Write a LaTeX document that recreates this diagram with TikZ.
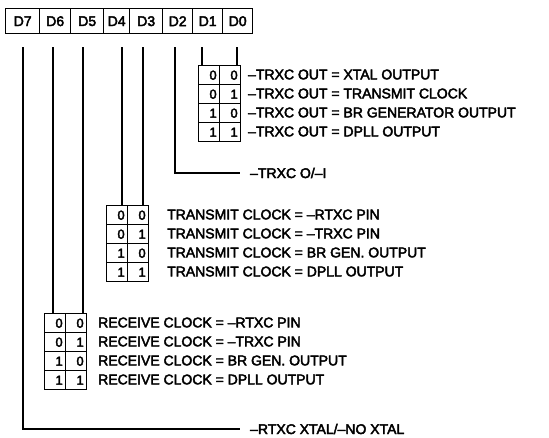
\documentclass[tikz,border=0pt]{standalone}
\usepackage{fontspec}
\setmainfont{Liberation Sans}[FakeBold=3]
\usetikzlibrary{positioning}

\begin{document}
\begin{tikzpicture}[x=1pt,y=-1pt,
	regbit/.style={ draw, line width=1.4pt, anchor=north west, minimum height=25pt, inner sep=0pt, font=\fontsize{14}{16}\selectfont },
	cell/.style={ draw, line width=1.4pt, anchor=north west, minimum height=19pt, text width=15pt, align=right, inner xsep=3pt, inner ysep=0pt, font=\fontsize{13}{15}\selectfont },
	lbl/.style={ anchor=west, inner sep=0pt, font=\fontsize{14}{16}\selectfont },
	wire/.style={ line width=1.8pt }
]
\useasboundingbox (0,0) rectangle (549,437);

% register
\foreach \n/\x/\w in {7/5/34, 6/39/31, 5/70/33, 4/103/26, 3/129/33, 2/162/30, 1/192/30, 0/222/30}
  \node[regbit, minimum width=\w pt] (d\n) at (\x,8) {D\n};
\foreach \n/\x in {7/23, 6/53, 5/83, 4/122, 3/143, 2/175, 1/202, 0/237}
  \coordinate (t\n) at (\x,47);

% D1 D0
\foreach \a/\b/\txt [count=\i] in {0/0/{--TRXC OUT = XTAL OUTPUT}, 0/1/{--TRXC OUT = TRANSMIT CLOCK},
    1/0/{--TRXC OUT = BR GENERATOR OUTPUT}, 1/1/{--TRXC OUT = DPLL OUTPUT}} {
  \node[cell] (al\i) at (198,{65+19*(\i-1)}) {\a};
  \node[cell] (ar\i) at (219,{65+19*(\i-1)}) {\b};
  \node[lbl] (at\i) at (248,{74.5+19*(\i-1)}) {\txt};
}
\draw[wire] (t1) -- (t1 |- al1.north);
\draw[wire] (t0) -- (t0 |- ar1.north);

% D2
\coordinate (e2) at (240,173);
\draw[wire] (t2) |- (e2);
\node[lbl, right=10pt of e2] (l2) {--TRXC O/--I};

% D4 D3
\foreach \a/\b/\txt [count=\i] in {0/0/{TRANSMIT CLOCK = --RTXC PIN}, 0/1/{TRANSMIT CLOCK = --TRXC PIN},
    1/0/{TRANSMIT CLOCK = BR GEN. OUTPUT}, 1/1/{TRANSMIT CLOCK = DPLL OUTPUT}} {
  \node[cell] (tl\i) at (106,{205+19*(\i-1)}) {\a};
  \node[cell] (tr\i) at (127,{205+19*(\i-1)}) {\b};
  \node[lbl] (tt\i) at (167,{214.5+19*(\i-1)}) {\txt};
}
\draw[wire] (t4) -- (t4 |- tl1.north);
\draw[wire] (t3) -- (t3 |- tr1.north);

% D6 D5
\foreach \a/\b/\txt [count=\i] in {0/0/{RECEIVE CLOCK = --RTXC PIN}, 0/1/{RECEIVE CLOCK = --TRXC PIN},
    1/0/{RECEIVE CLOCK = BR GEN. OUTPUT}, 1/1/{RECEIVE CLOCK = DPLL OUTPUT}} {
  \node[cell] (rl\i) at (44,{313+19*(\i-1)}) {\a};
  \node[cell] (rr\i) at (65,{313+19*(\i-1)}) {\b};
  \node[lbl] (rt\i) at (98,{322.5+19*(\i-1)}) {\txt};
}
\draw[wire] (t6) -- (t6 |- rl1.north);
\draw[wire] (t5) -- (t5 |- rr1.north);

% D7
\coordinate (e7) at (240,429);
\draw[wire] (t7) |- (e7);
\node[lbl, right=10pt of e7] (l7) {--RTXC XTAL/--NO XTAL};

\end{tikzpicture}
\end{document}
